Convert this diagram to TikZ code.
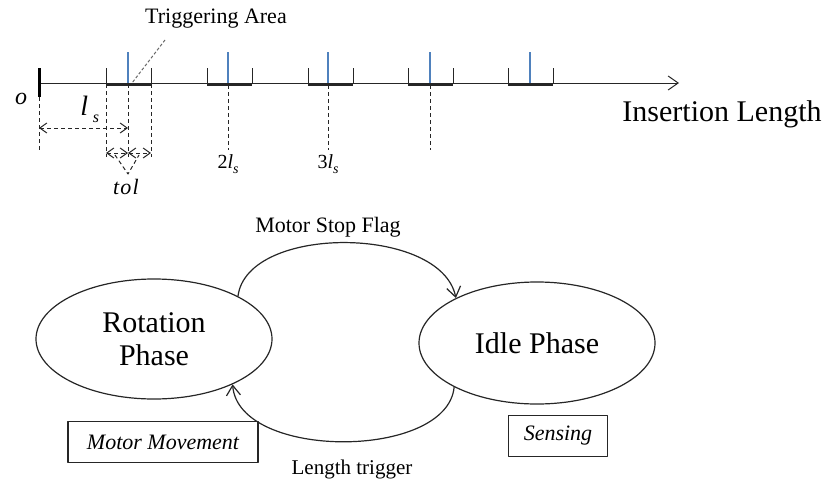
\documentclass[tikz,border=0pt]{standalone}
\usepackage{fontspec}
\setmainfont{Liberation Serif}
\usetikzlibrary{arrows.meta,shapes.geometric}
\definecolor{tickblue}{HTML}{4F81BD}
\definecolor{ink}{HTML}{262626}
\tikzset{
  every picture/.style={line join=round, >={Straight Barb[length=5pt,width=7pt]}},
  axisline/.style={ink,line width=0.5pt},
  zone/.style={ink,line width=1.5pt},
  trigmark/.style={tickblue,line width=1pt},
  guide/.style={ink,line width=0.5pt,dash pattern=on 2pt off 1.5pt},
  guidetip/.style={arrows={Straight Barb[length=3.5pt,width=5pt]-Straight Barb[length=3.5pt,width=5pt]}},
  phase/.style={draw=ink,ellipse,line width=0.6pt,minimum width=118pt,minimum height=60pt,inner sep=0pt,align=center,font=\fontsize{15}{16.5}\selectfont},
  tagbox/.style={draw=ink,line width=0.6pt,inner sep=0pt,font=\fontsize{11}{13}\selectfont\itshape},
  flow/.style={ink,line width=0.6pt,->},
}

\begin{document}
\begin{tikzpicture}[x=0.5pt,y=-0.5pt]
\useasboundingbox (0,0) rectangle (829,487);
% insertion axis
\coordinate (origin) at (39,83);
\coordinate (axisend) at (679,83);
\draw[axisline,->] (origin) -- (axisend);
\draw[line width=1.5pt] (39,68) -- (39,97);
\node[font=\fontsize{15}{18}\selectfont] (axislabel) at (722,114) {Insertion Length};
\node[font=\fontsize{12}{14}\selectfont\itshape] (zero) at (21,99) {o};
% triggering windows, one every l_s
\foreach \lft/\mid in {106/128,207/228,308/328,408/430,508/530}{
  \draw[axisline] (\lft,68) -- (\lft,84) (\lft+45,68) -- (\lft+45,84);
  \draw[zone] (\lft,84) -- (\lft+45,84);
  \draw[trigmark] (\mid,52) -- (\mid,83);
}
\node[font=\fontsize{11}{13}\selectfont] (trig) at (216,19) {Triggering Area};
\coordinate (trigtop) at (165,40);
\coordinate (trigfoot) at (132,83);
\draw[ink!70,line width=0.5pt,dash pattern=on 1.5pt off 1pt] (trigtop) -- (trigfoot);
% dashed drops and distances
\draw[guide] (39,97) -- (39,150);
\foreach \x in {106,128,151} \draw[guide] (\x,84) -- (\x,157);
\foreach \x in {228,328,430} \draw[guide] (\x,85) -- (\x,150);
\draw[guide,guidetip] (39,128) -- (128,128);
\draw[guide,guidetip] (106,153) -- (128,153);
\draw[guide,guidetip] (128,153) -- (151,153);
\draw[guide] (115,155) -- (128,174) -- (139,155);
\node[anchor=base west,inner sep=0pt] (ls) at (80,115)
  {\fontsize{14}{14}\selectfont\itshape l\,\raisebox{-3.5pt}{\fontsize{8}{8}\selectfont s}};
\node[font=\fontsize{11}{13}\selectfont\itshape] (tol) at (126,187) {t\kern0.6pt o\kern0.6pt l};
\node[anchor=base,inner sep=0pt,font=\fontsize{10}{12}\selectfont] (twols) at (228,168)
  {2\textit{l}\raisebox{-2.5pt}{\fontsize{7}{7}\selectfont\itshape s}};
\node[anchor=base,inner sep=0pt,font=\fontsize{10}{12}\selectfont] (threels) at (328,168)
  {3\textit{l}\raisebox{-2.5pt}{\fontsize{7}{7}\selectfont\itshape s}};

% phases
\node[phase] (rot) at (154,339) {Rotation\\Phase};
\node[phase,minimum height=61pt] (idle) at (537,343) {Idle Phase};
\draw[flow] (rot.27) .. controls +(9,-72) and +(-15,-73) .. (idle.151);
\draw[flow] (idle.208) .. controls +(-7,73) and +(6,76) .. (rot.-30);
\node[font=\fontsize{11}{13}\selectfont] (stopflag) at (328,227) {Motor Stop Flag};
\node[font=\fontsize{10.5}{13}\selectfont] (lentrig) at (352,469) {Length trigger};
\node[tagbox,minimum width=95pt,minimum height=20.5pt] (motion) at (163,442) {Motor Movement};
\node[tagbox,minimum width=49.5pt,minimum height=20.5pt] (sense) at (558,436) {Sensing};
\end{tikzpicture}
\end{document}
